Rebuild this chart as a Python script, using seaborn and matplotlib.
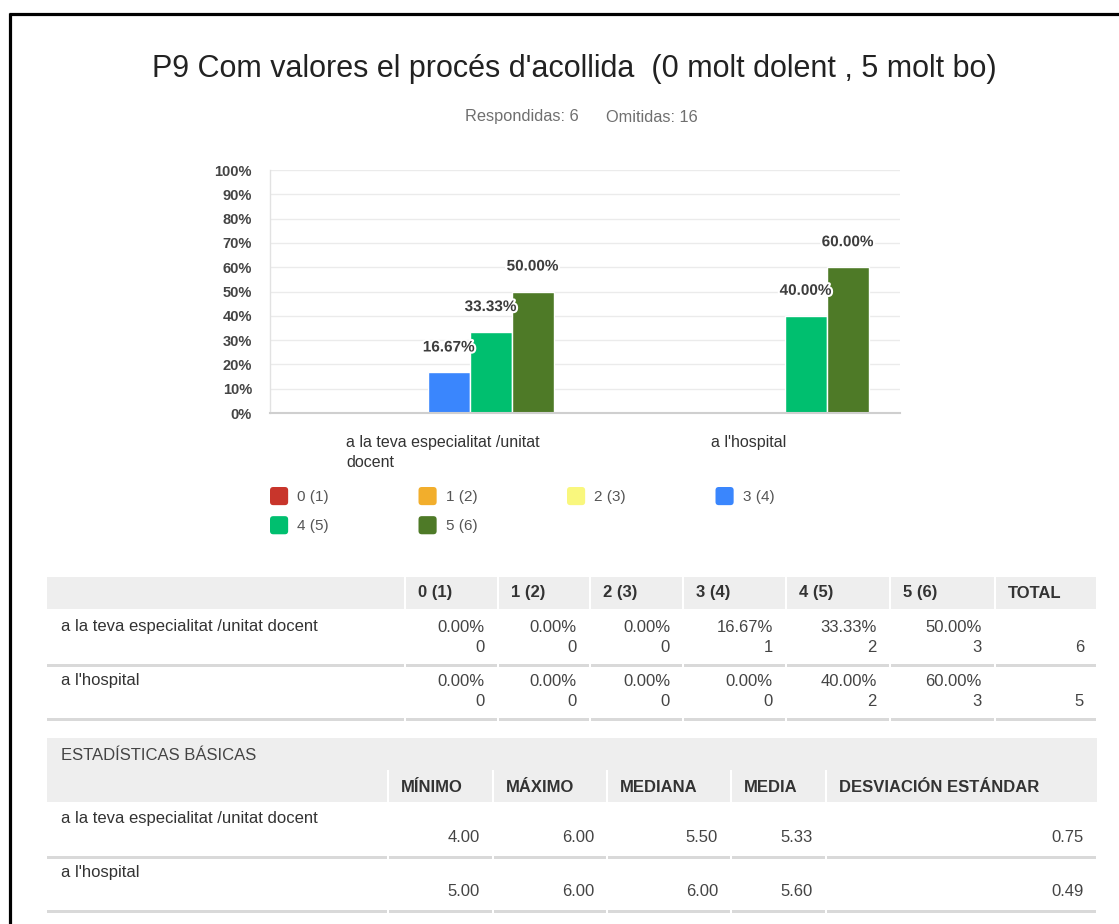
import numpy as np
import pandas as pd
import matplotlib
matplotlib.use("Agg")
import matplotlib.pyplot as plt
import matplotlib.patheffects as pe
from matplotlib.patches import Patch, FancyBboxPatch, Rectangle
from matplotlib.legend_handler import HandlerBase
import seaborn as sns

# ---------------- data ----------------
title = "P9 Com valores el procés d'acollida  (0 molt dolent , 5 molt bo)"
answered_text = "Respondidas: 6"
skipped_text = "Omitidas: 16"
categories = ["a la teva especialitat /unitat docent", "a l'hospital"]
category_ticklabels = ["a la teva especialitat /unitat\ndocent", "a l'hospital"]
levels = ["0 (1)", "1 (2)", "2 (3)", "3 (4)", "4 (5)", "5 (6)"]
level_colors = ["#C8352B", "#F2AE2C", "#F9F77D", "#3A86FD", "#00BF6F", "#4E7A27"]
pct_especialitat = [0.00, 0.00, 0.00, 16.67, 33.33, 50.00]
pct_hospital = [0.00, 0.00, 0.00, 0.00, 40.00, 60.00]
count_especialitat = [0, 0, 0, 1, 2, 3]
count_hospital = [0, 0, 0, 0, 2, 3]
total_especialitat = 6
total_hospital = 5
yticks = [0, 10, 20, 30, 40, 50, 60, 70, 80, 90, 100]
stats_title = "ESTADÍSTICAS BÁSICAS"
stat_headers = ["MÍNIMO", "MÁXIMO", "MEDIANA", "MEDIA", "DESVIACIÓN ESTÁNDAR"]
stat_especialitat = [4.00, 6.00, 5.50, 5.33, 0.75]
stat_hospital = [5.00, 6.00, 6.00, 5.60, 0.49]
total_header = "TOTAL"

df = pd.DataFrame({
    "category": [categories[0]] * len(levels) + [categories[1]] * len(levels),
    "level": levels + levels,
    "pct": pct_especialitat + pct_hospital,
})

# ---------------- style ----------------
sns.set_theme(style="white")
plt.rcParams["font.family"] = ["Liberation Sans", "DejaVu Sans"]

W, H = 1119, 924
fig = plt.figure(figsize=(W / 100, H / 100), dpi=100)
fig.patch.set_facecolor("white")

def fx(px):
    return px / W

def fy(py):
    return 1 - py / H

# ---------------- bar chart ----------------
ax_l, ax_r, ax_t, ax_b = 270, 900, 170, 413
ax = fig.add_axes([fx(ax_l), fy(ax_b), fx(ax_r - ax_l), (ax_b - ax_t) / H])
sns.barplot(data=df, x="category", y="pct", hue="level", order=categories,
            hue_order=levels, palette=level_colors, width=0.8, errorbar=None,
            edgecolor="white", linewidth=1, saturation=1, legend=False, ax=ax)
ax.set_xlim(-0.5, 1.5)
ax.set_ylim(0, 100)
ax.set_yticks(yticks)
ax.set_yticklabels([f"{t}%" for t in yticks], fontsize=10.5, fontweight="bold",
                   color="#444444")
label_shifts = [0.05, 0.02]  # labels sit slightly right of the group centre
ax.set_xticks([i + s for i, s in zip(range(len(categories)), label_shifts)])
ax.set_xticklabels(category_ticklabels, fontsize=11.5, color="#333333",
                   multialignment="left", linespacing=1.45)
ax.set_xlabel("")
ax.set_ylabel("")
ax.tick_params(axis="y", length=0, pad=13)
ax.tick_params(axis="x", length=0, pad=15.5)
ax.grid(axis="y", color="#ebebeb", linewidth=1)
ax.grid(axis="x", visible=False)
ax.set_axisbelow(True)
for s in ["top", "right"]:
    ax.spines[s].set_visible(False)
ax.spines["left"].set_color("#e2e2e2")
ax.spines["left"].set_linewidth(1)
ax.spines["bottom"].set_color("#cfcfcf")
ax.spines["bottom"].set_linewidth(1.5)

for cont in ax.containers:
    for bar in cont:
        h = bar.get_height()
        if h > 0:
            ax.annotate(f"{h:.2f}%", (bar.get_x() + bar.get_width() / 2, h),
                        xytext=(0, 25), textcoords="offset pixels",
                        ha="center", va="center", fontsize=11, fontweight="bold",
                        color="#3d3d3d",
                        path_effects=[pe.withStroke(linewidth=3, foreground="white")])

# ---------------- legend ----------------
class RoundHandler(HandlerBase):
    def create_artists(self, legend, orig_handle, xdescent, ydescent, width,
                       height, fontsize, trans):
        s = min(width, height)
        p = FancyBboxPatch((-xdescent + (width - s) / 2, -ydescent + (height - s) / 2), s, s,
                           boxstyle=f"round,pad=0,rounding_size={s * 0.18}",
                           facecolor=orig_handle.get_facecolor(),
                           edgecolor="none", transform=trans)
        return [p]

handles = [Patch(facecolor=c, label=l) for c, l in zip(level_colors, levels)]
order = [0, 4, 1, 5, 2, 3]
fig.legend([handles[i] for i in order], [levels[i] for i in order],
           loc="upper left", bbox_to_anchor=(fx(268), fy(487)), ncol=4,
           frameon=False, handler_map={Patch: RoundHandler()},
           fontsize=11, handlelength=1.45, handleheight=1.45, handletextpad=0.45,
           columnspacing=5.75, labelspacing=0.72, borderpad=0, borderaxespad=0,
           labelcolor="#555555")

# ---------------- overlay for texts and tables ----------------
tax = fig.add_axes([0, 0, 1, 1])
tax.set_xlim(0, W)
tax.set_ylim(H, 0)
tax.axis("off")
tax.patch.set_visible(False)

# frame lines
tax.plot([10, 10], [13, H], color="black", lw=2.3, solid_capstyle="butt")
tax.plot([9, W], [14, 14], color="black", lw=2.3, solid_capstyle="butt")

tax.text(574, 69, title, ha="center", va="center", fontsize=22, color="#222222")
tax.text(465, 117, answered_text, ha="left", va="center", fontsize=11.8, color="#6f6f6f")
tax.text(606, 117, skipped_text, ha="left", va="center", fontsize=11.8, color="#6f6f6f")

band = "#eeeeee"
sep = "#d9d9d9"
txt = "#333333"
fs = 12

# table 1
t1_bounds = [47, 405, 498, 590, 683, 786, 890, 995, 1097]
for i in range(len(t1_bounds) - 1):
    x0, x1 = t1_bounds[i], t1_bounds[i + 1]
    tax.add_patch(Rectangle((x0 + (1 if i else 0), 577), x1 - x0 - (2 if i else 1), 32,
                            facecolor=band, edgecolor="none"))
    for yy in (665, 719):
        tax.add_patch(Rectangle((x0 + (1 if i else 0), yy - 1.5), x1 - x0 - (2 if i else 1), 3,
                                facecolor=sep, edgecolor="none"))
headers1 = levels + [total_header]
for j, hname in enumerate(headers1):
    tax.text(t1_bounds[j + 1] + 13, 593, hname, ha="left", va="center",
             fontsize=fs, fontweight="bold", color=txt)
rows1 = [(categories[0], pct_especialitat, count_especialitat, total_especialitat, 626),
         (categories[1], pct_hospital, count_hospital, total_hospital, 681)]
for name, pcts, cnts, tot, y0 in rows1:
    tax.text(61, y0, name, ha="left", va="center", fontsize=fs, color=txt)
    for j, (p, c) in enumerate(zip(pcts, cnts)):
        xr = t1_bounds[j + 2] - 13
        tax.text(xr, y0 + 1, f"{p:.2f}%", ha="right", va="center", fontsize=fs, color="#444444")
        tax.text(xr, y0 + 21, f"{c}", ha="right", va="center", fontsize=fs, color="#444444")
    tax.text(t1_bounds[-1] - 13, y0 + 21, f"{tot}", ha="right", va="center",
             fontsize=fs, color="#444444")

# table 2
t2_bounds = [47, 388, 493, 607, 731, 826, 1097]
tax.add_patch(Rectangle((47, 738), 1097 - 47, 64, facecolor=band, edgecolor="none"))
for xb in t2_bounds[1:-1]:
    tax.add_patch(Rectangle((xb - 1, 770), 2, 32, facecolor="white", edgecolor="none"))
for i in range(len(t2_bounds) - 1):
    x0, x1 = t2_bounds[i], t2_bounds[i + 1]
    for yy in (857, 911):
        tax.add_patch(Rectangle((x0 + (1 if i else 0), yy - 1.5), x1 - x0 - (2 if i else 1), 3,
                                facecolor=sep, edgecolor="none"))
tax.text(61, 756, stats_title, ha="left", va="center", fontsize=fs, color="#444444")
for j, hname in enumerate(stat_headers):
    tax.text(t2_bounds[j + 1] + 13, 787, hname, ha="left", va="center",
             fontsize=fs, fontweight="bold", color=txt)
rows2 = [(categories[0], stat_especialitat, 819), (categories[1], stat_hospital, 873)]
for name, vals, y0 in rows2:
    tax.text(61, y0, name, ha="left", va="center", fontsize=fs, color=txt)
    for j, v in enumerate(vals):
        tax.text(t2_bounds[j + 2] - 13, y0 + 19, f"{v:.2f}", ha="right", va="center",
                 fontsize=fs, color="#444444")

fig.savefig("out.png", dpi=100, facecolor="white")
